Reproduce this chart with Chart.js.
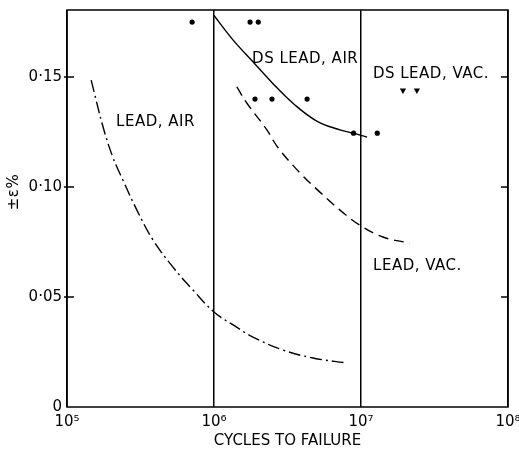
<!DOCTYPE html>
<html>
<head>
<meta charset="utf-8">
<script src="https://cdn.jsdelivr.net/npm/chart.js@4"></script>
<style>
  html, body { margin: 0; padding: 0; background: #fff; }
  #wrap { width: 519px; height: 449px; }
</style>
</head>
<body>
<div id="wrap"><canvas id="fatigueChart" width="519" height="449"></canvas></div>
<script>
// Curves (cycles, strain %)
const leadAirX = [1.46e5, 1.76e5, 2.05e5, 2.40e5, 2.99e5, 3.85e5, 5.26e5, 7.19e5, 1.0e6, 1.35e6, 1.84e6, 2.95e6, 4.71e6, 8.03e6];
const leadAirY = [0.1486, 0.1273, 0.1136, 0.1032, 0.0895, 0.0759, 0.0636, 0.0532, 0.0432, 0.0373, 0.0318, 0.0259, 0.0223, 0.0200];

const dsLeadAirX = [1.0e6, 1.35e6, 1.84e6, 2.52e6, 3.46e6, 5.0e6, 7.2e6, 8.8e6, 1.1e7];
const dsLeadAirY = [0.178, 0.1668, 0.157, 0.147, 0.138, 0.130, 0.126, 0.1245, 0.1227];

const leadVacX = [1.43e6, 1.68e6, 2.29e6, 2.72e6, 3.85e6, 5.25e6, 7.2e6, 9.8e6, 1.41e7, 2.15e7];
const leadVacY = [0.1455, 0.138, 0.126, 0.118, 0.1064, 0.0977, 0.0895, 0.0827, 0.0773, 0.0745];

// DS lead, air test points
const dotX = [7.1e5, 1.76e6, 2.0e6, 1.9e6, 2.48e6, 4.3e6, 8.9e6, 1.29e7];
const dotY = [0.175, 0.175, 0.175, 0.140, 0.140, 0.140, 0.1245, 0.1245];

// DS lead, vac. test points
const triX = [1.93e7, 2.4e7];
const triY = [0.144, 0.144];

const xTicks = [1e5, 1e6, 1e7, 1e8];
const xTickLabels = ['10⁵', '10⁶', '10⁷', '10⁸'];
const yTicks = [0, 0.05, 0.10, 0.15];
const yTickLabels = ['0', '0·05', '0·10', '0·15'];

// curve labels, in data units
const curveLabels = [
  { text: 'LEAD, AIR', x: 4.0e5, y: 0.1295 },
  { text: 'DS LEAD, AIR', x: 4.17e6, y: 0.158 },
  { text: 'DS LEAD, VAC.', x: 2.99e7, y: 0.1514 },
  { text: 'LEAD, VAC.', x: 2.42e7, y: 0.0641 }
];

const FONT = 'DejaVu Sans';
const zip = (xs, ys) => xs.map((x, i) => ({ x: x, y: ys[i] }));

const framePlugin = {
  id: 'frame',
  afterDraw(chart) {
    const { ctx, chartArea: a, scales } = chart;
    ctx.save();
    ctx.strokeStyle = '#000';
    ctx.lineWidth = 1.5;
    ctx.strokeRect(a.left, a.top, a.right - a.left, a.bottom - a.top);
    // inward ticks on both y sides
    yTicks.slice(1).forEach(v => {
      const py = scales.y.getPixelForValue(v);
      ctx.beginPath();
      ctx.moveTo(a.left - 3, py); ctx.lineTo(a.left + 7, py);
      ctx.moveTo(a.right - 7, py); ctx.lineTo(a.right, py);
      ctx.stroke();
    });
    // curve labels
    ctx.fillStyle = '#000';
    ctx.font = '15px "' + FONT + '"';
    ctx.letterSpacing = '0.5px';
    ctx.textAlign = 'center';
    ctx.textBaseline = 'middle';
    curveLabels.forEach(l => {
      ctx.fillText(l.text, scales.x.getPixelForValue(l.x), scales.y.getPixelForValue(l.y));
    });
    // y axis title, sits above the axis middle in the original
    ctx.translate(14, 192);
    ctx.rotate(-Math.PI / 2);
    ctx.fillText('±ε%', 0, 0);
    ctx.restore();
  }
};

const lineStyle = {
  borderColor: '#000',
  borderWidth: 1.4,
  showLine: true,
  pointRadius: 0,
  tension: 0.4,
  fill: false
};

new Chart(document.getElementById('fatigueChart').getContext('2d'), {
  type: 'scatter',
  data: {
    datasets: [
      Object.assign({ label: 'LEAD, AIR', data: zip(leadAirX, leadAirY), borderDash: [12, 4, 2, 4] }, lineStyle),
      Object.assign({ label: 'DS LEAD, AIR', data: zip(dsLeadAirX, dsLeadAirY) }, lineStyle),
      Object.assign({ label: 'LEAD, VAC.', data: zip(leadVacX, leadVacY), borderDash: [10, 6] }, lineStyle),
      {
        label: 'DS LEAD, AIR points',
        data: zip(dotX, dotY),
        pointStyle: 'circle',
        pointRadius: 2.6,
        backgroundColor: '#000',
        borderColor: '#000',
        borderWidth: 0
      },
      {
        label: 'DS LEAD, VAC. points',
        data: zip(triX, triY),
        pointStyle: 'triangle',
        rotation: 180,
        pointRadius: 3.6,
        backgroundColor: '#000',
        borderColor: '#000',
        borderWidth: 0
      }
    ]
  },
  options: {
    responsive: false,
    animation: false,
    events: [],
    layout: { autoPadding: false, padding: { top: 10, right: 11, bottom: 0, left: 0 } },
    plugins: { legend: { display: false }, tooltip: { enabled: false } },
    scales: {
      x: {
        type: 'logarithmic',
        min: 1e5,
        max: 1e8,
        afterBuildTicks: s => { s.ticks = xTicks.map(v => ({ value: v })); },
        afterFit: s => { s.height = 42; s.paddingLeft = 0; s.paddingRight = 0; },
        ticks: {
          autoSkip: false,
          maxRotation: 0,
          padding: 6,
          color: '#000',
          font: { family: FONT, size: 15 },
          callback: v => xTickLabels[xTicks.indexOf(v)]
        },
        grid: { color: '#000', lineWidth: 1.5, drawTicks: false },
        border: { display: false },
        title: {
          display: true,
          text: 'CYCLES TO FAILURE',
          color: '#000',
          font: { family: FONT, size: 15, lineHeight: 1 },
          padding: { top: 0, bottom: 0 }
        }
      },
      y: {
        min: 0,
        max: 0.1805,
        afterBuildTicks: s => { s.ticks = yTicks.map(v => ({ value: v })); },
        afterFit: s => { s.width = 67; s.paddingTop = 0; s.paddingBottom = 0; },
        ticks: {
          padding: 5,
          color: '#000',
          font: { family: FONT, size: 15 },
          callback: v => yTickLabels[yTicks.indexOf(v)]
        },
        grid: { display: false, drawTicks: false },
        border: { display: false }
      }
    }
  },
  plugins: [framePlugin]
});
</script>
</body>
</html>
